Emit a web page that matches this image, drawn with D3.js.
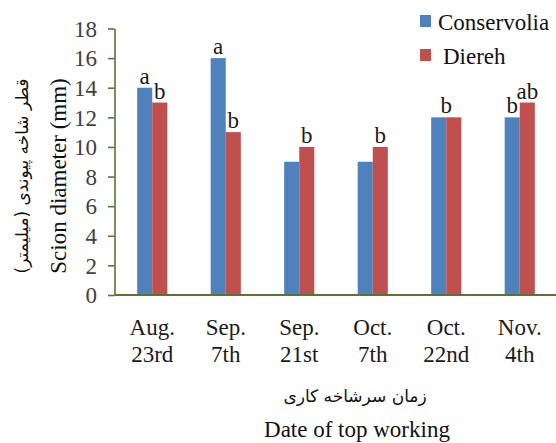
<!DOCTYPE html>
<html>
<head>
<meta charset="utf-8">
<script src="https://cdn.jsdelivr.net/npm/d3@7"></script>
<style>
  html, body { margin: 0; padding: 0; background: #fff; }
  svg { display: block; }
</style>
</head>
<body>
<svg id="chart" width="556" height="443"></svg>
<script>
// Scion diameter by topworking date for two olive cultivars
const dates = ["Aug.|23rd", "Sep.|7th", "Sep.|21st", "Oct.|7th", "Oct.|22nd", "Nov.|4th"];
const seriesNames = ["Conservolia", "Diereh"];
const conservolia = [14, 16, 9, 9, 12, 12];
const diereh = [13, 11, 10, 10, 12, 13];
// Mean-separation letters shown above the bars
const lettersConservolia = ["a", "a", "", "", "", "b"];
const lettersDiereh = ["b", "b", "b", "b", "b", "ab"];
const yTicks = [0, 2, 4, 6, 8, 10, 12, 14, 16, 18];
const colors = ["#4F81BD", "#C0504D"];

const svg = d3.select("#chart");
const axisColor = "#5b7433";
const serif = "Liberation Serif";
const arabicFont = "DejaVu Sans";

const plot = { left: 114.5, right: 556.5, top: 28.5, bottom: 295 };

const x0 = d3.scaleBand()
  .domain(d3.range(dates.length))
  .range([plot.left + 1, plot.right])
  .paddingInner(0.59)
  .paddingOuter(0.295);

const x1 = d3.scaleBand()
  .domain(seriesNames)
  .range([0, x0.bandwidth()]);

const y = d3.scaleLinear().domain([0, 18]).range([plot.bottom, plot.top]);

const rows = dates.map((d, i) => ({
  i,
  values: [
    { name: seriesNames[0], value: conservolia[i], letter: lettersConservolia[i], color: colors[0] },
    { name: seriesNames[1], value: diereh[i], letter: lettersDiereh[i], color: colors[1] }
  ]
}));

// Bars
const groups = svg.append("g").selectAll("g")
  .data(rows)
  .join("g")
  .attr("transform", d => `translate(${x0(d.i)},0)`);

groups.selectAll("rect")
  .data(d => d.values)
  .join("rect")
  .attr("x", d => x1(d.name))
  .attr("width", x1.bandwidth())
  .attr("y", d => y(d.value))
  .attr("height", d => y(0) - y(d.value))
  .attr("fill", d => d.color);

// Significance letters; a single letter over equal bars sits over the pair
groups.each(function (row) {
  const g = d3.select(this);
  const equal = row.values[0].value === row.values[1].value;
  const withLetters = row.values.filter(v => v.letter);
  withLetters.forEach(v => {
    const cx = (equal && withLetters.length === 1)
      ? x0.bandwidth() / 2
      : x1(v.name) + x1.bandwidth() / 2;
    g.append("text")
      .attr("x", cx)
      .attr("y", y(v.value) - 4)
      .attr("text-anchor", "middle")
      .style("font-family", serif)
      .style("font-size", "23px")
      .attr("fill", "#1a1a1a")
      .text(v.letter);
  });
});

// Y axis
const yAxis = svg.append("g")
  .attr("transform", `translate(${plot.left},0)`)
  .call(d3.axisLeft(y).tickValues(yTicks).tickSize(6.5).tickPadding(11).tickSizeOuter(0));
yAxis.attr("font-family", null).attr("font-size", null);
yAxis.select(".domain").attr("stroke", axisColor).attr("stroke-width", 1.6);
yAxis.selectAll(".tick line").attr("stroke", axisColor).attr("stroke-width", 1.6);
yAxis.selectAll(".tick text")
  .style("font-family", serif)
  .style("font-size", "23px")
  .attr("fill", "#404040")
  .attr("dy", "0.34em");

// X axis baseline
svg.append("line")
  .attr("x1", plot.left).attr("x2", plot.right)
  .attr("y1", y(0)).attr("y2", y(0))
  .attr("stroke", axisColor).attr("stroke-width", 1.8);

// Category labels on two lines
const xLabels = svg.append("g").selectAll("text")
  .data(rows)
  .join("text")
  .attr("text-anchor", "middle")
  .style("font-family", serif)
  .style("font-size", "23px")
  .attr("fill", "#1a1a1a")
  .attr("transform", d => `translate(${x0(d.i) + x0.bandwidth() / 2},${plot.bottom + 40})`);
xLabels.selectAll("tspan")
  .data(d => dates[d.i].split("|"))
  .join("tspan")
  .attr("x", 0)
  .attr("dy", (d, k) => k === 0 ? 0 : 27)
  .text(d => d);

// Axis titles
svg.append("text")
  .attr("x", 355).attr("y", 402)
  .attr("text-anchor", "middle")
  .attr("direction", "rtl")
  .style("font-family", arabicFont)
  .style("font-size", "17px")
  .attr("fill", "#111")
  .text("زمان سرشاخه  کاری");

svg.append("text")
  .attr("x", 357).attr("y", 437)
  .attr("text-anchor", "middle")
  .style("font-family", serif)
  .style("font-size", "23px")
  .attr("fill", "#111")
  .text("Date of top working");

svg.append("text")
  .attr("transform", "translate(66,176) rotate(-90)")
  .attr("text-anchor", "middle")
  .style("font-family", serif)
  .style("font-size", "23px")
  .attr("fill", "#111")
  .text("Scion diameter (mm)");

svg.append("text")
  .attr("transform", "translate(28,176) rotate(-90)")
  .attr("text-anchor", "middle")
  .attr("direction", "rtl")
  .style("font-family", arabicFont)
  .style("font-size", "17px")
  .attr("fill", "#111")
  .text("قطر شاخه پیوندی (میلیمتر)");

// Legend
const legend = svg.append("g").selectAll("g")
  .data(seriesNames)
  .join("g")
  .attr("transform", (d, i) => `translate(420,${15 + i * 34})`);
legend.append("rect")
  .attr("width", 11).attr("height", 12)
  .attr("fill", (d, i) => colors[i]);
legend.append("text")
  .attr("x", (d, i) => i === 0 ? 18 : 23)
  .attr("y", 15)
  .style("font-family", serif)
  .style("font-size", "23px")
  .attr("fill", "#111")
  .text(d => d);
</script>
</body>
</html>
